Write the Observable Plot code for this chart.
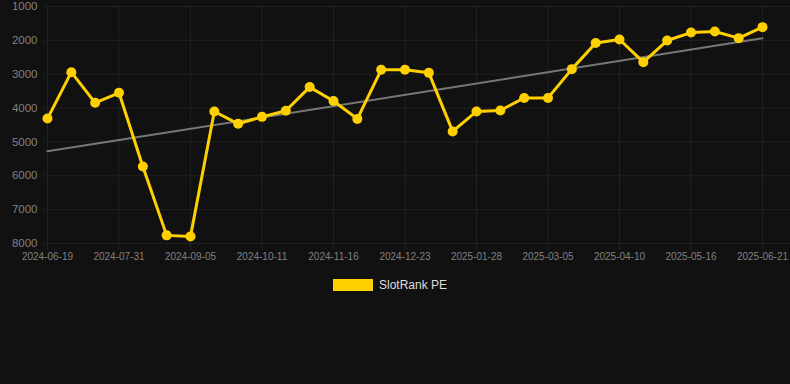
<!DOCTYPE html>
<html>
<head>
<meta charset="utf-8">
<script src="https://cdn.jsdelivr.net/npm/d3@7"></script>
<script src="https://cdn.jsdelivr.net/npm/@observablehq/plot@0.6"></script>
<style>
  html, body { margin: 0; padding: 0; background: #111111; }
  #chart { width: 790px; }
  .legend { display: flex; justify-content: center; align-items: center; margin-top: 13px; padding-right: 10px; font-family: "Liberation Sans", Arial, sans-serif; font-size: 12px; color: #dddddd; }
  .legend .sw { width: 40px; height: 12px; background: #ffd000; margin-right: 6px; }
</style>
</head>
<body>
<div id="chart"></div>
<script>
const tickLabels = ["2024-06-19","2024-07-31","2024-09-05","2024-10-11","2024-11-16","2024-12-23","2025-01-28","2025-03-05","2025-04-10","2025-05-16","2025-06-21"];
const values = [4310, 2940, 3845, 3550, 5725, 7760, 7790, 4100, 4465, 4260, 4080, 3380, 3790, 4320, 2870, 2870, 2960, 4690, 4100, 4070, 3700, 3700, 2850, 2080, 1975, 2645, 2005, 1770, 1740, 1935, 1610];
const yTicks = [1000, 2000, 3000, 4000, 5000, 6000, 7000, 8000];

const data = values.map((v, i) => ({i, v}));
const xTicks = tickLabels.map((_, k) => k * 3);
const W = 790, H = 265;

const plot = Plot.plot({
  width: W,
  height: H,
  marginLeft: 43,
  marginRight: 0,
  marginTop: 6,
  marginBottom: H - 243,
  style: { background: "#111111", color: "#808080", fontFamily: "Liberation Sans, Arial, sans-serif" },
  x: { domain: [0, values.length - 1], range: [47, 762] },
  y: { domain: [1000, 8000], reverse: true },
  marks: [
    Plot.gridY(yTicks, { stroke: "#202020", strokeOpacity: 1 }),
    Plot.gridX(xTicks, { stroke: "#202020", strokeOpacity: 1 }),
    Plot.axisY({ ticks: yTicks, tickSize: 0, tickPadding: 6, fontSize: 11.5, fill: "#808080", tickFormat: d => String(d), label: null }),
    Plot.axisX({ ticks: xTicks, tickSize: 7, tickPadding: 2, stroke: "#202020", fontSize: 10, fill: "#808080", tickFormat: i => tickLabels[i / 3], label: null }),
    Plot.linearRegressionY(data, { x: "i", y: "v", stroke: "#777777", strokeWidth: 2, ci: 0 }),
    Plot.line(data, { x: "i", y: "v", stroke: "#ffd000", strokeWidth: 3 }),
    Plot.dot(data, { x: "i", y: "v", r: 5, fill: "#ffd000", stroke: "none" })
  ]
});
document.getElementById("chart").appendChild(plot);
const lg = document.createElement("div");
lg.className = "legend";
lg.innerHTML = '<div class="sw"></div><span>SlotRank PE</span>';
document.body.appendChild(lg);
</script>
</body>
</html>
